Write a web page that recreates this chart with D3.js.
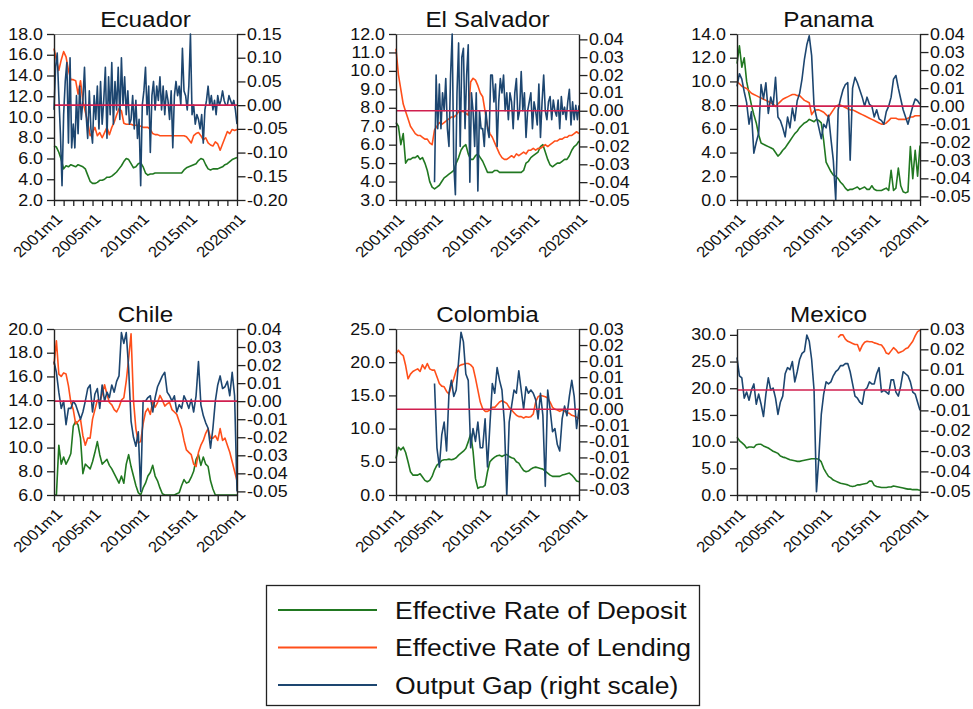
<!DOCTYPE html>
<html><head><meta charset="utf-8">
<script src="https://cdn.jsdelivr.net/npm/d3@7"></script>
<style>body{margin:0;background:#fff} text{font-family:"Liberation Sans",Arial,sans-serif;fill:#111}</style>
</head><body><svg id="chart" width="973" height="709"></svg>
<script>
// ---------------- DATA (readings from 2001m1 .. 2020m1) ----------------
const countries = ["Ecuador","El Salvador","Panama","Chile","Colombia","Mexico"];
const startYear = 2001, endYear = 2020;
const rateStepMonths = 3;                 // rates read quarterly
const gapStepMonths = [2,2,3,3,3,3];      // output gap: bimonthly for the two noisiest panels
const xTickYears = [2001,2005,2010,2015,2020];
const xTickLabels = ["2001m1","2005m1","2010m1","2015m1","2020m1"];
const seriesNames = ["Effective Rate of Deposit","Effective Rate of Lending","Output Gap (right scale)"];
const N = null;

const ecuadorDeposit = [7.2,7.1,6.6,5.9, 5.0,5.3,5.2,5.4, 5.3,5.2,5.4,5.3, 5.2,5.0,4.4,3.8, 3.6,3.6,3.7,3.9, 3.9,4.0,4.2,4.2, 4.3,4.5,4.7,5.0, 5.3,5.7,6.0,5.9, 5.5,5.1,5.2,5.5, 5.6,5.2,4.6,4.4, 4.5,4.5,4.6,4.6, 4.6,4.6,4.6,4.6, 4.6,4.6,4.6,4.6, 4.6,4.6,4.9,5.1, 5.2,5.3,5.4,5.5, 5.8,6.0,5.9,5.4, 5.0,4.9,5.0,5.0, 5.0,5.1,5.2,5.4, 5.5,5.7,5.9,6.0, 6.1];
const ecuadorLending = [16.6,15.5,14.5,15.5, 16.3,15.8,14.5,13.6, 13.6,13.5,12.2,13.5, 11.5,10.5,9.5,8.2, 8.5,9.0,8.2,8.5, 8.0,8.5,9.0,8.3, 9.0,9.5,10.2,10.8, 10.6,9.4,9.3,9.3, 9.3,9.2,9.2,9.2, 9.1,9.0,9.0,9.0, 8.8,8.4,8.3,8.3, 8.2,8.2,8.2,8.2, 8.2,8.2,8.2,8.2, 8.2,8.2,8.2,8.1, 7.8,7.5,8.2,8.4, 8.5,8.2,7.8,8.0, 7.5,7.3,7.2,7.6, 7.4,6.8,7.4,8.0, 8.6,8.4,8.8,8.7, 8.8];
const ecuadorGap = [-0.01,0.08,0.11,0.02,-0.06,-0.17, -0.02,0.05,0.09,-0.08,0.10,-0.09, -0.04,-0.09,0.02,-0.06,0.04,-0.03, 0.01,0.08,-0.02,-0.07,0.03,-0.05, -0.08,0.02,-0.03,0.04,-0.05,0.05, -0.04,0.01,0.08,-0.07,0.06,-0.02, 0.09,-0.04,0.05,-0.01,0.08,-0.03, 0.10,0.00,0.06,-0.02,0.03,-0.04, -0.03,0.02,-0.05,0.01,-0.07,-0.03, -0.17,0.00,0.03,0.08,-0.02,0.04, -0.10,0.02,0.05,-0.01,0.04,0.01, 0.06,-0.01,0.04,-0.02,0.03,0.01, -0.03,0.03,-0.09,0.02,0.05,0.02, 0.04,0.00,0.12,0.03,0.02,-0.01, 0.04,0.15,-0.02,0.00,-0.04,-0.02, -0.03,-0.05,-0.02,-0.08,-0.01,0.01, 0.04,0.00,0.02,-0.01,0.01,-0.02, 0.02,0.00,0.01,0.03,0.01,0.00, 0.00,0.02,0.01,0.00,0.01,-0.01, -0.04];

const salvadorDeposit = [7.2,7.0,6.0,6.6, 5.0,5.2,5.2,5.3, 5.3,5.4,5.2,5.3, 5.0,4.6,4.0,3.7, 3.6,3.7,3.8,4.0, 4.2,4.3,4.4,4.5, 4.6,5.0,5.3,5.7, 5.9,6.0,5.5,5.2, 5.2,5.4,5.5,5.3, 5.1,4.8,4.5,4.5, 4.5,4.6,4.6,4.5, 4.5,4.5,4.5,4.5, 4.5,4.5,4.5,4.5, 4.5,4.6,5.0,5.1, 5.3,5.4,5.5,5.6, 5.9,6.0,5.6,5.2, 4.9,4.8,4.9,5.0, 5.0,5.1,5.2,5.2, 5.4,5.7,5.9,6.0, 6.2];
const salvadorLending = [11.2,9.8,9.0,8.2, 7.8,7.4,7.0,6.8, 6.6,6.5,6.5,6.4, 6.3,6.3,6.1,6.0, 6.8,7.0,7.2,7.1, 7.2,7.3,7.4,7.5, 7.5,7.6,7.8,7.8, 7.8,7.7,7.6,9.4, 9.6,9.5,9.2,8.8, 8.6,7.8,7.0,6.6, 6.4,6.1,5.8,5.5, 5.3,5.2,5.2,5.3, 5.4,5.3,5.5,5.4, 5.5,5.6,5.5,5.7, 5.7,5.8,5.7,5.8, 5.8,5.9,6.0,5.9, 6.0,6.1,6.2,6.2, 6.3,6.3,6.4,6.4, 6.5,6.5,6.6,6.7, 6.6];
const salvadorGap = [N,N,N,N,N,N, N,N,N,N,N,N, N,N,N,N,N,N, N,N,N,N,N,N, -0.040,0.020,-0.010,0.015,-0.010,0.010, 0.000,0.018,-0.010,-0.020,0.020,0.043, -0.030,-0.047,0.010,0.038,-0.020,0.030, 0.035,-0.010,0.020,0.037,-0.040,0.010, 0.000,-0.020,0.010,-0.045,0.000,-0.010, -0.010,-0.020,0.000,-0.010,-0.015,0.020, 0.020,0.005,0.015,-0.020,0.005,0.018, 0.010,0.020,0.000,0.010,-0.005,0.010, 0.005,-0.010,0.010,0.018,-0.005,0.000, 0.022,0.000,0.010,-0.015,0.000,0.005, 0.010,-0.010,0.005,0.000,-0.008,0.015, -0.015,0.005,0.020,0.000,-0.005,0.005, 0.008,-0.005,0.006,0.000,-0.003,0.006, -0.010,0.008,-0.002,0.002,-0.005,0.005, 0.012,-0.008,0.005,-0.005,0.003,-0.005, 0.003];

const panamaDeposit = [11.5,13.0,11.2,12.0, 10.0,9.0,8.0,7.2, 6.5,5.5,4.8,4.7, 4.6,4.5,4.4,4.3, 4.0,3.7,3.9,4.2, 4.4,4.7,5.0,5.3, 5.6,5.8,6.1,6.3, 6.5,6.6,6.8,6.7, 6.6,6.8,6.7,6.5, 5.0,3.2,2.8,2.4, 2.1,2.0,1.8,1.5, 1.3,1.0,0.8,0.9, 0.9,1.0,1.1,0.9, 1.0,1.1,0.9,0.9, 1.2,0.9,0.8,0.8, 0.8,0.9,1.0,0.8, 2.5,0.8,1.0,2.7, 1.2,0.7,0.6,0.7, 4.5,1.8,4.2,2.0, 4.6];
const panamaLending = [10.0,9.8,9.6,9.5, 9.4,9.2,9.0,8.9, 8.8,8.7,8.6,8.5, 8.4,8.3,8.2,8.1, 7.9,8.1,8.3,8.5, 8.6,8.7,8.8,8.9, 8.9,8.8,8.8,8.6, 8.4,8.3,8.2,7.2, 7.5,7.6,7.6,7.5, 7.4,7.2,7.0,7.3, 7.6,7.9,8.0,8.0, 7.9,7.8,7.7,7.6, 7.6,7.5,7.4,7.3, 7.2,7.1,7.0,6.9, 6.8,6.7,6.6,6.5, 6.4,6.4,6.5,6.7, 6.9,6.9,6.9,6.8, 6.8,6.8,6.8,6.9, 7.0,7.0,7.1,7.1, 7.1];
const panamaGap = [0.011,0.018,0.015,0.008, 0.002,-0.010,-0.003,-0.026, -0.020,-0.015,0.012,0.004, 0.013,-0.004,0.005,0.000, 0.016,-0.006,-0.008,-0.012, -0.017,-0.006,-0.012,-0.001, -0.008,0.003,0.007,0.015, 0.026,0.034,0.039,0.028, 0.000,-0.006,-0.012,-0.018, -0.010,-0.012,-0.005,-0.018, -0.030,-0.052,-0.002,0.004, 0.009,0.012,0.013,-0.030, 0.010,0.016,0.013,0.009, 0.005,0.000,0.005,0.001, 0.000,-0.006,-0.002,-0.007, -0.008,-0.010,-0.003,0.000, 0.005,0.015,0.017,0.010, 0.004,-0.002,-0.006,-0.010, -0.005,0.000,0.004,0.003, 0.001];

const chileDeposit = [6.0,6.0,10.2,8.6, 9.2,8.6,9.0,9.5, 11.8,12.2,11.9,10.8, 7.8,8.6,8.4,8.2, 8.8,9.6,10.5,9.4, 8.6,8.8,9.0,8.5, 8.2,7.8,7.4,7.0, 7.6,7.0,8.6,9.4, 8.4,7.6,6.8,6.2, 6.0,6.6,7.0,7.6, 7.9,8.5,7.6,7.2, 6.6,6.1,6.0,6.0, 6.0,6.0,6.0,6.1, 6.2,6.8,7.3,7.0, 7.1,7.5,8.0,9.0, 9.4,8.5,9.2,8.6, 8.4,7.2,6.5,6.0, 6.0,6.0,6.0,6.0, 6.0,6.0,6.0,6.0, 6.0];
const chileLending = [17.0,19.0,16.2,16.0, 16.3,16.2,15.2,13.8, 13.2,12.0,12.2,12.4, 11.0,10.2,10.8,10.8, 12.4,13.2,14.0,13.8, 14.5,15.3,14.5,13.8, 13.6,13.2,13.0,13.4, 14.0,14.2,15.6,17.5, 19.6,14.0,11.6,10.4, 10.5,12.0,13.0,13.3, 12.8,13.9,13.4,13.8, 14.4,14.0,13.5,13.7, 13.8,13.2,13.0,12.8, 12.2,11.6,10.6,9.8, 9.6,9.4,8.6,8.4, 9.6,10.2,10.6,11.2, 11.6,10.8,10.8,11.0, 10.6,11.6,10.6,10.8, 10.2,9.6,8.8,8.0, 7.2];
const chileGap = [0.022,0.016,0.005,-0.004, 0.000,-0.013,-0.004,-0.004, 0.000,-0.002,-0.006,-0.010, -0.006,0.000,0.007,0.009, -0.006,0.004,0.007,-0.004, 0.009,0.000,0.005,0.002, 0.009,0.005,0.011,0.014, 0.038,0.032,0.038,0.018, -0.011,-0.020,-0.025,-0.017, -0.050,0.000,0.000,0.002, 0.003,-0.006,0.002,0.008, 0.011,0.014,0.016,0.005, 0.003,0.000,0.003,-0.006, -0.002,-0.004,0.003,0.000, -0.004,0.001,-0.006,0.003, 0.022,-0.002,-0.008,-0.012, -0.015,-0.026,-0.015,0.000, 0.009,0.014,0.007,0.008, 0.011,0.003,0.016,0.003, -0.050];

const colombiaDeposit = [5.5,7.2,6.8,7.2, 6.4,5.0,3.5,3.0, 3.0,3.0,3.2,2.7, 2.2,2.0,2.2,2.8, 3.8,4.5,4.8,5.2, 5.3,5.3,5.4,5.3, 5.4,5.6,6.0,6.3, 6.6,7.0,8.0,9.2, 6.6,2.5,1.0,1.2, 1.2,1.5,3.5,5.0, 5.4,5.7,5.9,6.0, 5.8,6.0,6.1,5.8, 5.6,5.5,5.0,4.8, 4.2,3.7,3.5,3.6, 3.9,4.1,4.2,4.1, 4.0,3.9,3.6,3.3, 3.0,2.8,2.8,2.8, 2.8,3.0,3.1,3.2, 3.3,3.0,2.6,2.1, 2.0];
const colombiaLending = [21.3,21.8,21.3,21.0, 19.5,17.5,18.2,18.6, 18.8,19.0,18.6,19.6, 19.0,19.8,19.0,18.8, 18.8,17.8,16.8,16.4, 16.3,15.6,15.2,16.5, 17.5,18.8,19.4,19.6, 19.7,19.8,19.8,19.6, 19.2,17.6,15.8,14.0, 13.0,12.6,12.6,12.8, 13.2,13.2,13.6,14.0, 14.2,14.0,13.8,13.2, 12.8,12.4,12.0,11.8, 11.8,11.6,11.8,11.7, 11.8,12.2,14.0,14.8, 15.0,14.9,14.8,14.6, 14.0,13.2,12.9,12.8, 12.6,12.8,12.6,12.4, 12.3,12.0,11.9,11.7, 11.5];
const colombiaGap = [N,N,N,N, N,N,N,N, N,N,N,N, N,N,N,N, 0.008,-0.012,-0.018,-0.008, -0.004,-0.013,0.005,0.009, 0.004,0.006,0.015,0.024, 0.021,0.011,0.009,-0.012, -0.006,-0.010,-0.004,-0.012, -0.012,-0.003,-0.018,-0.005, 0.008,0.005,0.013,0.009, 0.006,-0.004,-0.027,-0.004, 0.001,0.006,0.005,0.012, 0.006,0.000,0.007,0.005, 0.006,0.005,0.003,-0.003, 0.005,-0.002,-0.024,0.006, 0.000,-0.007,-0.006,-0.011, -0.013,-0.003,0.001,-0.002, 0.004,0.009,0.004,-0.006, 0.000];

const mexicoDeposit = [10.8,10.2,9.8,9.4, 8.8,9.0,9.0,8.9, 9.4,9.5,9.5,9.2, 9.0,8.8,8.5,8.2, 8.0,7.8,7.3,7.1, 7.0,6.8,6.6,6.5, 6.4,6.3,6.3,6.4, 6.5,6.6,6.7,6.8, 6.8,6.8,6.7,6.2, 5.0,4.2,3.5,3.2, 2.8,2.6,2.4,2.2, 2.1,2.0,1.9,1.7, 1.6,1.7,1.9,1.9, 2.0,2.1,2.2,2.6, 2.6,1.8,1.6,1.5, 1.4,1.4,1.4,1.5, 1.5,1.7,1.6,1.5, 1.4,1.3,1.2,1.1, 1.1,1.0,1.0,1.0, 0.9];
const mexicoLending = [N,N,N,N, N,N,N,N, N,N,N,N, N,N,N,N, N,N,N,N, N,N,N,N, N,N,N,N, N,N,N,N, N,N,N,N, N,N,N,N, N,N,29.5,30.0, 30.0,29.2,28.8,28.6, 28.4,28.2,28.2,27.0, 28.0,28.6,28.8,28.7, 28.7,28.5,28.4,28.2, 28.1,27.5,26.6,26.4, 27.0,27.6,27.2,26.6, 26.8,27.0,27.4,27.6, 28.2,28.8,29.8,30.6, 30.9];
const mexicoGap = [0.016,0.007,0.006,-0.004, -0.001,-0.005,0.000,0.003, -0.007,-0.002,-0.007,-0.013, -0.002,0.006,0.000,0.001, -0.004,-0.012,-0.006,-0.003, 0.008,0.011,0.010,0.014, 0.004,0.009,0.015,0.018, 0.019,0.027,0.024,0.015, 0.000,-0.050,-0.033,-0.012, -0.002,0.004,0.003,0.004, 0.007,0.009,0.010,0.012, 0.012,0.013,0.013,0.009, 0.003,-0.003,-0.004,-0.006, -0.007,0.000,0.001,0.004, 0.003,0.003,0.008,0.011, -0.001,0.000,-0.001,-0.002, 0.005,0.005,-0.001,-0.003, 0.002,0.009,0.008,0.007, 0.004,-0.001,-0.002,-0.006, -0.010];

const depositSeries = [ecuadorDeposit, salvadorDeposit, panamaDeposit, chileDeposit, colombiaDeposit, mexicoDeposit];
const lendingSeries = [ecuadorLending, salvadorLending, panamaLending, chileLending, colombiaLending, mexicoLending];
const gapSeries = [ecuadorGap, salvadorGap, panamaGap, chileGap, colombiaGap, mexicoGap];

// axis ranges and tick labels
const leftDomains = [[2,18],[3,12],[0,14],[6,20],[0,25],[0,31.1]];
const leftTicks = [[2,4,6,8,10,12,14,16,18],[3,4,5,6,7,8,9,10,11,12],[0,2,4,6,8,10,12,14],[6,8,10,12,14,16,18,20],[0,5,10,15,20,25],[0,5,10,15,20,25,30]];
const rightDomains = [[-0.20,0.15],[-0.05,0.043],[-0.052,0.04],[-0.052,0.04],[-0.0267,0.025],[-0.0516,0.03]];
const rightTicks = [
  [-0.20,-0.15,-0.10,-0.05,0,0.05,0.10,0.15],
  [-0.05,-0.04,-0.03,-0.02,-0.01,0,0.01,0.02,0.03,0.04],
  [-0.05,-0.04,-0.03,-0.02,-0.01,0,0.01,0.02,0.03,0.04],
  [-0.05,-0.04,-0.03,-0.02,-0.01,0,0.01,0.02,0.03,0.04],
  [-0.025,-0.02,-0.015,-0.01,-0.005,0,0.005,0.01,0.015,0.02,0.025],
  [-0.05,-0.04,-0.03,-0.02,-0.01,0,0.01,0.02,0.03]];
const rightTickLabels = [
  ["-0.20","-0.15","-0.10","-0.05","0.00","0.05","0.10","0.15"],
  ["-0.05","-0.04","-0.03","-0.02","-0.01","0.00","0.01","0.02","0.03","0.04"],
  ["-0.05","-0.04","-0.03","-0.02","-0.01","0.00","0.01","0.02","0.03","0.04"],
  ["-0.05","-0.04","-0.03","-0.02","-0.01","0.00","0.01","0.02","0.03","0.04"],
  ["-0.03","-0.02","-0.01","-0.01","-0.01","0.00","0.01","0.01","0.01","0.02","0.03"],
  ["-0.05","-0.04","-0.03","-0.02","-0.01","0.00","0.01","0.02","0.03"]];

// ---------------- LAYOUT / STYLE ----------------
const SX = 1.13;            // horizontal stretch of the original's text
const W = 183, H = 166;
const colX = [54, 396, 737], rowY = [34, 329], titleY = [27, 322];
const COL = {dep:"#217821", lend:"#ff4f1a", gap:"#1d4670", zero:"#d01f4f", axis:"#222"};

const svg = d3.select("#chart");
svg.append("rect").attr("width",973).attr("height",709).attr("fill","#fff");

const totalMonths = (endYear - startYear) * 12;
const x = d3.scaleLinear().domain([0, totalMonths]).range([0, W]);
const yearTicks = d3.range(startYear, endYear + 1).map(y => (y - startYear) * 12);

countries.forEach((name, k) => {
  const px = colX[k % 3], py = rowY[Math.floor(k / 3)];
  const g = svg.append("g").attr("transform", `translate(${px},${py})`);
  const yL = d3.scaleLinear().domain(leftDomains[k]).range([H, 0]);
  const yR = d3.scaleLinear().domain(rightDomains[k]).range([H, 0]);

  const clipId = "clip" + k;
  g.append("clipPath").attr("id", clipId).append("rect")
    .attr("x", -1).attr("y", -1).attr("width", W + 2).attr("height", H + 2);

  g.append("line").attr("x1", 0).attr("x2", W).attr("y1", 0.5).attr("y2", 0.5)
    .attr("stroke", "#8a8a8a").attr("stroke-width", 1);

  const plot = g.append("g").attr("clip-path", `url(#${clipId})`);
  const mk = (ys, step) => d3.line().defined(d => d != null)
    .x((d, i) => x(i * step)).y(d => ys(d));

  plot.append("path").datum(depositSeries[k]).attr("d", mk(yL, rateStepMonths))
    .attr("fill", "none").attr("stroke", COL.dep).attr("stroke-width", 1.6).attr("stroke-linejoin", "round");
  plot.append("path").datum(lendingSeries[k]).attr("d", mk(yL, rateStepMonths))
    .attr("fill", "none").attr("stroke", COL.lend).attr("stroke-width", 1.6).attr("stroke-linejoin", "round");
  plot.append("path").datum(gapSeries[k]).attr("d", mk(yR, gapStepMonths[k]))
    .attr("fill", "none").attr("stroke", COL.gap).attr("stroke-width", 1.6).attr("stroke-linejoin", "round");
  plot.append("line").attr("x1", 0).attr("x2", W).attr("y1", yR(0)).attr("y2", yR(0))
    .attr("stroke", COL.zero).attr("stroke-width", 1.6);

  const ga = g.append("g").call(d3.axisLeft(yL).tickValues(leftTicks[k]).tickSize(7).tickSizeOuter(0)
    .tickFormat(d => d.toFixed(1)));
  ga.selectAll("text").attr("x", -11 / SX).attr("transform", `scale(${SX},1)`)
    .style("font-size", "15.8px").attr("fill", "#111");

  const gr = g.append("g").attr("transform", `translate(${W},0)`)
    .call(d3.axisRight(yR).tickValues(rightTicks[k]).tickSize(8.5).tickSizeOuter(0)
      .tickFormat((d, i) => rightTickLabels[k][i]));
  gr.selectAll("text").attr("x", 10 / SX).attr("transform", `scale(${SX},1)`)
    .style("font-size", "15.8px").attr("fill", "#111");

  const gb = g.append("g").attr("transform", `translate(0,${H})`)
    .call(d3.axisBottom(x).tickValues(yearTicks).tickSize(6).tickSizeOuter(0)
      .tickFormat(d => {
        const yr = startYear + d / 12;
        const j = xTickYears.indexOf(yr);
        return j >= 0 ? xTickLabels[j] : "";
      }));
  gb.selectAll("text").attr("x", 0).attr("y", 0).attr("dy", 0)
    .attr("text-anchor", "end")
    .attr("transform", `translate(9,20) scale(${SX},1) rotate(-45)`)
    .style("font-size", "15px").attr("fill", "#111");

  [ga, gr, gb].forEach(a => {
    a.selectAll("path.domain").attr("stroke", COL.axis).attr("stroke-width", 1.4);
    a.selectAll(".tick line").attr("stroke", COL.axis).attr("stroke-width", 1.3);
  });

  svg.append("text").attr("text-anchor", "middle")
    .attr("transform", `translate(${px + W / 2},${titleY[Math.floor(k / 3)]}) scale(${SX},1)`)
    .style("font-size", "21.5px").attr("fill", "#111").text(name);
});

// legend
const leg = svg.append("g");
leg.append("rect").attr("x", 266.5).attr("y", 585.5).attr("width", 433).attr("height", 120)
  .attr("fill", "none").attr("stroke", "#222").attr("stroke-width", 1.3);
const legColors = [COL.dep, COL.lend, COL.gap];
const legY = [610, 647.5, 685];
seriesNames.forEach((s, i) => {
  leg.append("line").attr("x1", 278).attr("x2", 377).attr("y1", legY[i]).attr("y2", legY[i])
    .attr("stroke", legColors[i]).attr("stroke-width", 2);
  leg.append("text").attr("transform", `translate(395,${legY[i] + 8.5}) scale(${SX},1)`)
    .style("font-size", "23.5px").attr("fill", "#111").text(s);
});
</script></body></html>
